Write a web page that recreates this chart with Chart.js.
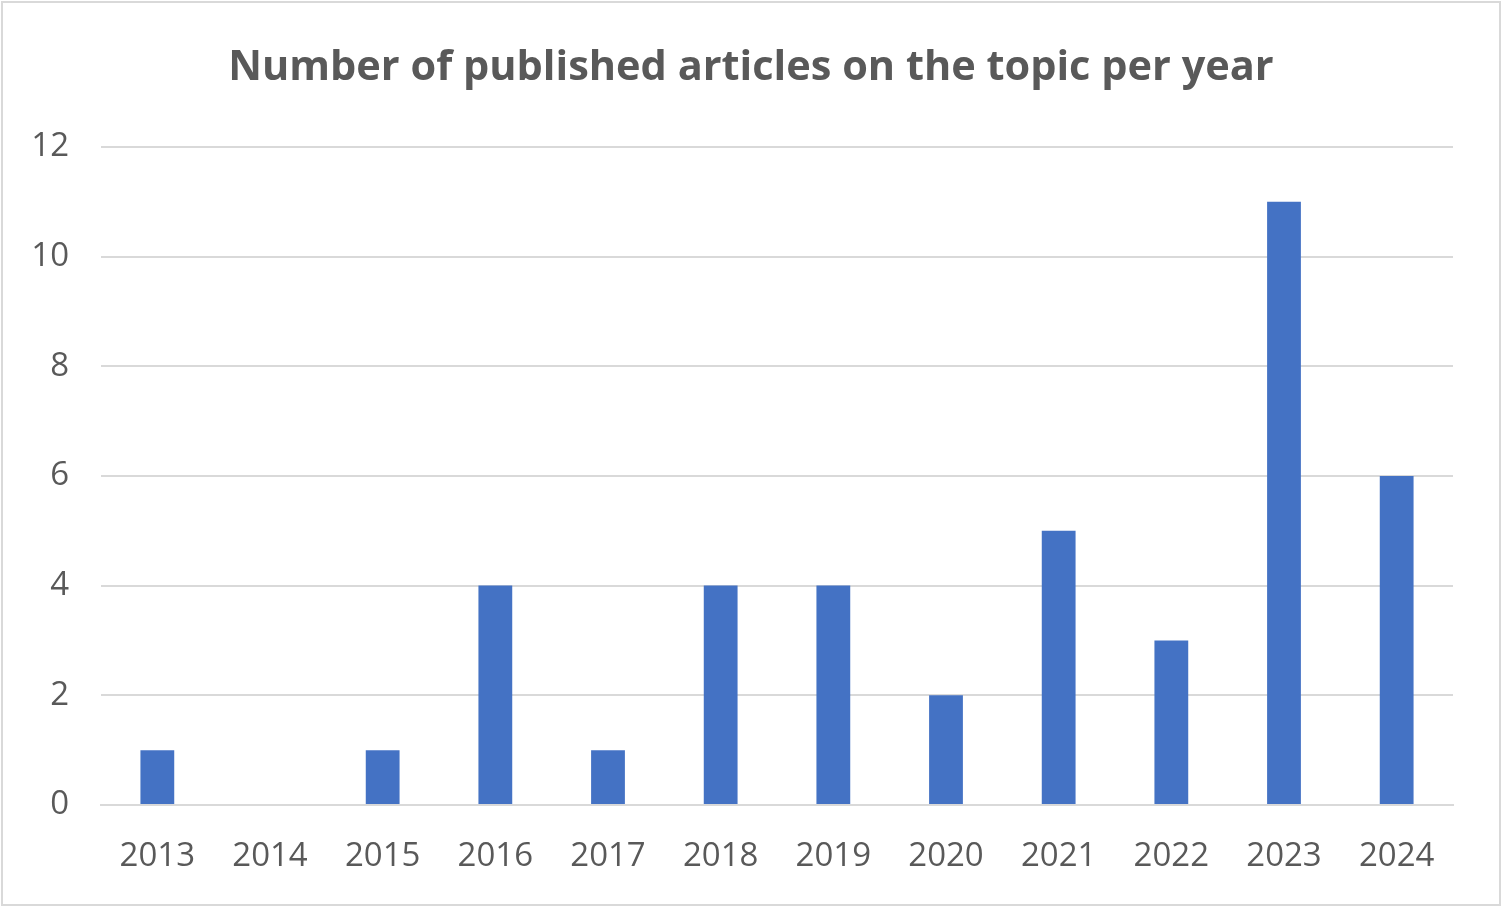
<!DOCTYPE html>
<html lang="en">
<head>
    <meta charset="UTF-8">
    <title>Number of published articles on the topic per year</title>
    <script src="https://cdn.jsdelivr.net/npm/chart.js"></script>
    <style>
        html, body { margin: 0; padding: 0; background: #fff; }
        .chart-box { position: absolute; left: 0; top: 0; width: 1502px; height: 906px; }
        .chart-frame { position: absolute; left: 1px; top: 1px; width: 1496px; height: 901px; border: 2px solid #d9d9d9; pointer-events: none; }
    </style>
</head>
<body>
    <div class="chart-box">
        <canvas id="articlesChart" width="1502" height="906"></canvas>
        <div class="chart-frame"></div>
    </div>
    <script>
        // données
        const years = ['2013', '2014', '2015', '2016', '2017', '2018', '2019', '2020', '2021', '2022', '2023', '2024'];
        const articles = [1, 0, 1, 4, 1, 4, 4, 2, 5, 3, 11, 6];
        const yTicks = [0, 2, 4, 6, 8, 10, 12];

        const grey = '#595959';
        const tickFont = { family: '"Open Sans", sans-serif', size: 33 };

        const ctx = document.getElementById('articlesChart').getContext('2d');
        new Chart(ctx, {
            type: 'bar',
            data: {
                labels: years,
                datasets: [{
                    data: articles,
                    backgroundColor: '#4472c4',
                    borderWidth: 0,
                    categoryPercentage: 1,
                    barPercentage: 0.3
                }]
            },
            options: {
                responsive: false,
                animation: false,
                layout: { padding: 0 },
                plugins: {
                    legend: { display: false },
                    tooltip: { enabled: false },
                    title: {
                        display: true,
                        text: 'Number of published articles on the topic per year',
                        color: grey,
                        font: { family: '"Open Sans", sans-serif', size: 41.5, weight: 'bold' },
                        padding: { top: 43, bottom: 54 }
                    }
                },
                scales: {
                    x: {
                        grid: { display: false },
                        border: { color: '#d9d9d9', width: 2 },
                        ticks: { color: grey, font: tickFont, padding: 24, maxRotation: 0 },
                        afterFit: (scale) => { scale.height = 906 - 805; }
                    },
                    y: {
                        min: 0,
                        max: 12,
                        afterBuildTicks: (scale) => { scale.ticks = yTicks.map(v => ({ value: v })); },
                        grid: { color: '#d9d9d9', lineWidth: 2, drawTicks: false },
                        border: { display: false },
                        ticks: { color: grey, font: tickFont, padding: 32 },
                        afterFit: (scale) => { scale.width = 101; }
                    },
                    // axe vide à droite : marge sans décentrer le titre
                    yRight: {
                        position: 'right',
                        grid: { display: false },
                        border: { display: false },
                        ticks: { display: false },
                        afterFit: (scale) => { scale.width = 49; }
                    }
                }
            }
        });
    </script>
</body>
</html>
